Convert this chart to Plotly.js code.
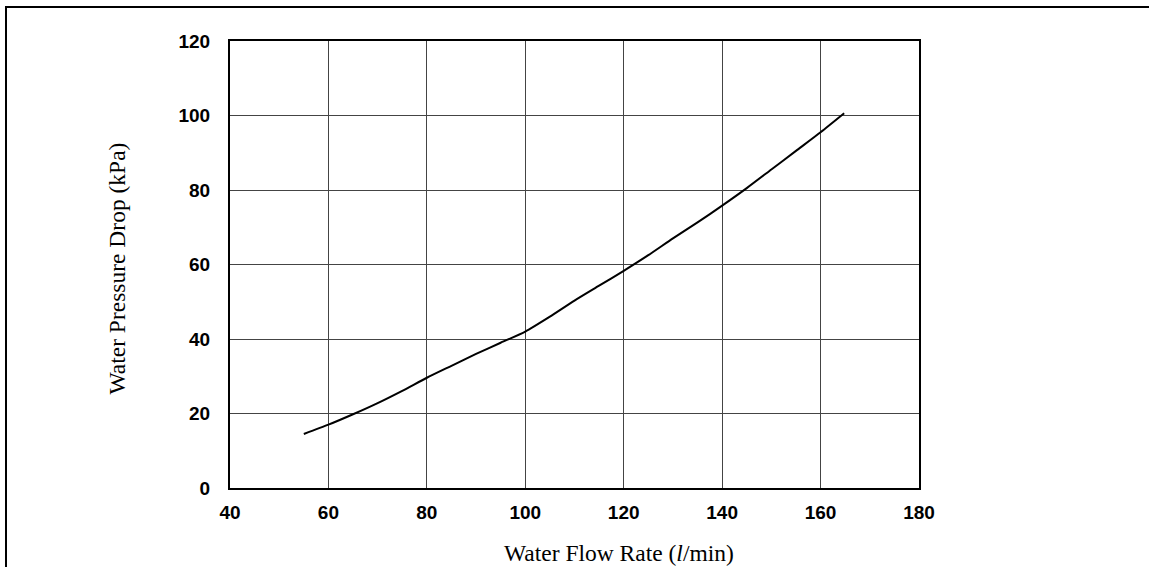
<!DOCTYPE html>
<html>
<head>
<meta charset="utf-8">
<script src="https://cdn.plot.ly/plotly-3.0.1.min.js"></script>
<style>
  html, body { margin: 0; padding: 0; background: #fff; }
  #wrap { position: relative; width: 1149px; height: 567px; overflow: hidden; }
  #chart { position: absolute; left: 0; top: 0; width: 1149px; height: 567px; }
  #frame { position: absolute; left: 5px; top: 6px; width: 1160px; height: 580px;
           border-top: 2px solid #000; border-left: 2px solid #000; pointer-events: none; }
</style>
</head>
<body>
<div id="wrap">
  <div id="chart"></div>
  <div id="frame"></div>
</div>
<script>
// Water flow rate (l/min)
const flowRate = [55, 60, 65, 70, 75, 80, 85, 90, 95, 100, 105, 110, 115, 120, 125, 130, 135, 140, 145, 150, 155, 160, 164.8];
// Water pressure drop (kPa)
const pressureDrop = [14.5, 17, 19.8, 22.8, 26.1, 29.6, 32.8, 36, 39, 42, 46, 50.3, 54.3, 58.3, 62.5, 67, 71.3, 75.8, 80.5, 85.5, 90.5, 95.5, 100.6];

const xTicks = [40, 60, 80, 100, 120, 140, 160, 180];
const yTicks = [0, 20, 40, 60, 80, 100, 120];

const xTitle = 'Water Flow Rate (<i>l</i>/min)';
const yTitle = 'Water Pressure Drop (kPa)';

const trace = {
  x: flowRate,
  y: pressureDrop,
  type: 'scatter',
  mode: 'lines',
  line: { color: '#000', width: 2, shape: 'spline', smoothing: 0.6 },
  hoverinfo: 'skip'
};

const tickFont = { family: '"Liberation Sans", Arial, sans-serif', size: 19, color: '#000' };
const titleFont = { family: '"Liberation Serif", "Times New Roman", serif', size: 23.5, color: '#000' };

const layout = {
  width: 1149,
  height: 567,
  margin: { l: 230, r: 230, t: 41, b: 79, pad: 0 },
  paper_bgcolor: '#fff',
  plot_bgcolor: '#fff',
  showlegend: false,
  font: tickFont,
  xaxis: {
    range: [40, 180],
    tickvals: xTicks,
    ticktext: xTicks.map(v => '<b>' + v + '</b>'),
    ticks: '',
    ticklabelstandoff: 6,
    showgrid: true,
    gridcolor: '#444',
    gridwidth: 1,
    zeroline: false,
    showline: true,
    linecolor: '#000',
    linewidth: 2,
    mirror: true,
    tickfont: tickFont,
    fixedrange: true
  },
  yaxis: {
    range: [0, 120],
    tickvals: yTicks,
    ticktext: yTicks.map(v => '<b>' + v + '</b>'),
    ticks: '',
    ticklabelstandoff: 14,
    showgrid: true,
    gridcolor: '#444',
    gridwidth: 1,
    zeroline: false,
    showline: true,
    linecolor: '#000',
    linewidth: 2,
    mirror: true,
    tickfont: tickFont,
    fixedrange: true
  },
  annotations: [
    {
      text: xTitle, xref: 'paper', yref: 'paper',
      x: 0.5646, y: -0.1454, xanchor: 'center', yanchor: 'middle',
      showarrow: false, font: titleFont
    },
    {
      text: yTitle, xref: 'paper', yref: 'paper',
      x: -0.164, y: 0.491, xanchor: 'center', yanchor: 'middle',
      textangle: -90, showarrow: false, font: titleFont
    }
  ]
};

Plotly.newPlot('chart', [trace], layout, { staticPlot: true, displayModeBar: false });
</script>
</body>
</html>
